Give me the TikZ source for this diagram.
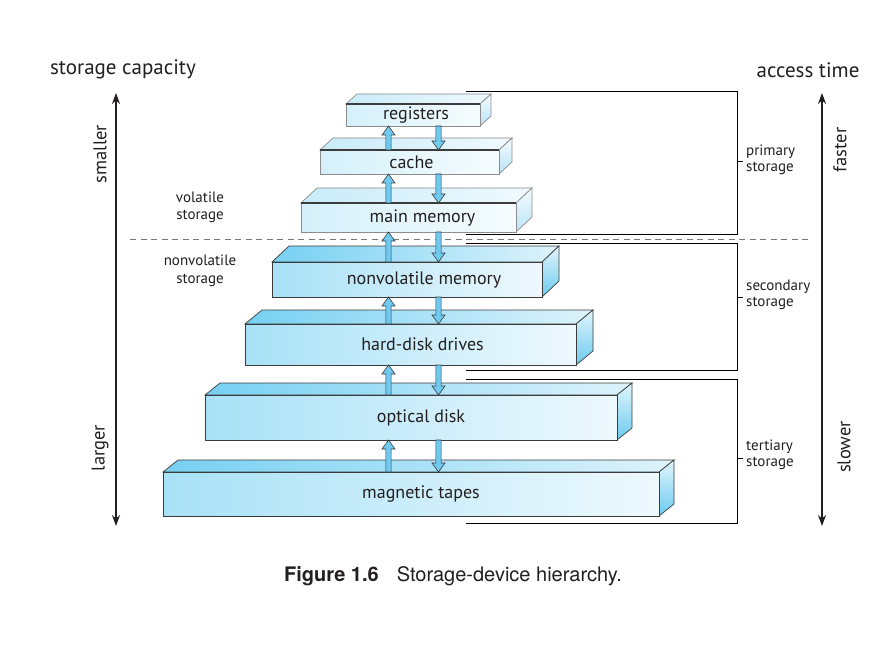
\documentclass[tikz,border=0pt]{standalone}
\usepackage{fontspec}
\setmainfont{PT Sans}
\newfontfamily\capfont{TeX Gyre Heros}
\usetikzlibrary{arrows.meta,calc}
\definecolor{ink}{RGB}{35,31,32}
\definecolor{boxline}{RGB}{60,60,60}
\definecolor{primline}{RGB}{140,140,140}
\definecolor{frontL}{RGB}{168,225,247}
\definecolor{frontR}{RGB}{238,249,253}
\definecolor{topL}{RGB}{118,208,242}
\definecolor{topR}{RGB}{222,243,252}
\definecolor{sideT}{RGB}{225,245,252}
\definecolor{sideB}{RGB}{108,203,240}
\definecolor{pfrontL}{RGB}{212,240,250}
\definecolor{pfrontR}{RGB}{246,252,254}
\definecolor{ptopL}{RGB}{200,235,249}
\definecolor{ptopR}{RGB}{240,250,254}
\definecolor{psideT}{RGB}{245,251,254}
\definecolor{psideB}{RGB}{185,228,247}
\definecolor{arrowfill}{RGB}{112,202,240}
\definecolor{dashgray}{RGB}{120,120,120}

\tikzset{
  sec top/.style={left color=topL, right color=topR, draw=boxline, line width=0.7pt},
  sec side/.style={top color=sideT, bottom color=sideB, draw=boxline, line width=0.7pt},
  sec front/.style={left color=frontL, right color=frontR, draw=boxline, line width=0.7pt,
    inner sep=0pt, outer sep=0pt},
  prim top/.style={left color=ptopL, right color=ptopR, draw=primline, line width=0.7pt},
  prim side/.style={top color=psideT, bottom color=psideB, draw=primline, line width=0.7pt},
  prim front/.style={left color=pfrontL, right color=pfrontR, draw=primline, line width=0.7pt,
    inner sep=0pt, outer sep=0pt},
  boxlabel/.style={text=ink, font=\fontsize{18}{20}\selectfont, inner sep=0pt},
  primedge/.style={draw=boxline, line width=1.4pt},
  blk/.style={fill=arrowfill, draw=boxline, line width=0.6pt, line join=miter},
  bracket/.style={draw=black, line width=0.9pt},
  sidelabel/.style={text=ink, font=\fontsize{15}{16.5}\selectfont, align=left, anchor=west, inner sep=0pt},
  leftlabel/.style={text=ink, font=\fontsize{15}{17.5}\selectfont, align=center, inner sep=0pt},
  axislabel/.style={text=ink, font=\fontsize{18.5}{20}\selectfont, inner sep=0pt, rotate=90},
  headlabel/.style={text=ink, font=\fontsize{21}{23}\selectfont, inner sep=0pt},
  axis/.style={draw=ink, line width=1.3pt, {Stealth[length=11pt,width=8pt]}-{Stealth[length=11pt,width=8pt]}}
}

% #1 name #2 x1 #3 x2 #4 y1 #5 y2 #6 dx #7 dy #8 kind #9 label x-shift
\newcommand\storbox[9]{%
  \shadedraw[#8 top] (#2,#4) -- ++(#6,#7) -- ++({#3-#2},0) -- (#3,#4) -- cycle;
  \shadedraw[#8 side] (#3,#4) -- ++(#6,#7) -- ++(0,{#5-#4}) -- (#3,#5) -- cycle;
  \node[#8 front, minimum width={#3-#2}, minimum height={#5-#4}] (#1) at ({(#2+#3)/2},{(#4+#5)/2}) {};
  \coordinate (#1-lab) at ($(#1.center)+(#9,0)$);
}
\newcommand\upblock[2]{%
  \draw[blk] let \p1=(#1), \p2=(#2) in
    (\x1-2.6pt,\y1) -- (\x1-2.6pt,\y2-9pt) -- (\x1-6.5pt,\y2-9pt) -- (\x1,\y2)
    -- (\x1+6.5pt,\y2-9pt) -- (\x1+2.6pt,\y2-9pt) -- (\x1+2.6pt,\y1) -- cycle;}
\newcommand\downblock[2]{%
  \draw[blk] let \p1=(#1), \p2=(#2) in
    (\x1-2.6pt,\y1) -- (\x1-2.6pt,\y2+9pt) -- (\x1-6.5pt,\y2+9pt) -- (\x1,\y2)
    -- (\x1+6.5pt,\y2+9pt) -- (\x1+2.6pt,\y2+9pt) -- (\x1+2.6pt,\y1) -- cycle;}

\begin{document}
\begin{tikzpicture}[x=1pt,y=-1pt]
\useasboundingbox[fill=white] (0,0) rectangle (893,652);

% headings
\node[headlabel] (cap) at (123,69) {storage capacity};
\node[headlabel] (acc) at (808,70) {access time};

% axes
\coordinate (lt) at (116,93);
\coordinate (lb) at (116,526);
\coordinate (rt) at (822,93);
\coordinate (rb) at (822,526);
\draw[axis] (lt) -- (lb);
\draw[axis] (rt) -- (rb);
\node[axislabel] (smaller) at (100,154) {smaller};
\node[axislabel] (larger) at (100,448) {larger};
\node[axislabel] (faster) at (840,150) {faster};
\node[axislabel] (slower) at (844,447) {slower};

% volatile / nonvolatile
\draw[dashgray, line width=1pt, dash pattern=on 6pt off 4.5pt] (130,239) -- (808,239);
\node[leftlabel] (vol) at (200,207.5) {volatile\\storage};
\node[leftlabel] (nvol) at (200,271) {nonvolatile\\storage};

% brackets
\draw[bracket] (466,91) -- (737,91) -- (737,234) -- (466,234);
\draw[bracket] (737,161) -- (743,161);
\draw[bracket] (466,243) -- (737,243) -- (737,370) -- (466,370);
\draw[bracket] (737,297) -- (743,297);
\draw[bracket] (466,379) -- (737,379) -- (737,523) -- (466,523);
\draw[bracket] (737,458) -- (743,458);
\node[sidelabel] (prim) at (746,160) {primary\\storage};
\node[sidelabel] (secn) at (746,295) {secondary\\storage};
\node[sidelabel] (tert) at (746,455) {tertiary\\storage};

% boxes
\storbox{reg}{346}{480}{104}{126}{11}{-10}{prim}{3}
\storbox{cache}{320}{499}{150}{174}{13}{-12}{prim}{2}
\storbox{mm}{301}{516}{203}{232}{16}{-15}{prim}{14}
\draw[primedge] (reg.north west) -- (reg.north east);
\draw[primedge] (cache.north west) -- (cache.north east);
\draw[primedge] (mm.north west) -- (mm.north east);
\storbox{nvm}{272}{542}{262}{297}{17}{-16}{sec}{17}
\storbox{hdd}{245}{576}{324}{365}{17}{-14}{sec}{12}
\storbox{opt}{205}{617}{395}{440}{15}{-12}{sec}{10}
\storbox{tape}{163}{659}{472}{516}{15}{-12}{sec}{10}

\node[boxlabel] (reg-t) at (reg-lab) {registers};
\node[boxlabel] (cache-t) at (cache-lab) {cache};
\node[boxlabel] (mm-t) at (mm-lab) {main memory};
\node[boxlabel] (nvm-t) at (nvm-lab) {nonvolatile memory};
\node[boxlabel] (hdd-t) at (hdd-lab) {hard-disk drives};
\node[boxlabel] (opt-t) at (opt-lab) {optical disk};
\node[boxlabel] (tape-t) at (tape-lab) {magnetic tapes};

% transfer arrows
\coordinate (upcol) at (388.5,0);
\coordinate (downcol) at (438.5,0);
\foreach \a/\b in {reg/cache,cache/mm,mm/nvm,nvm/hdd,hdd/opt,opt/tape}{
  \upblock{\b.north -| upcol}{\a.south -| upcol}
  \downblock{\a.south -| downcol}{\b.north -| downcol}
}

% caption
\node[text=ink, font=\capfont\fontsize{20}{22}\selectfont, anchor=west, inner sep=0pt] (caption) at (284,576)
  {\textbf{Figure 1.6}\hspace{18pt}Storage-device hierarchy.};
\end{tikzpicture}
\end{document}
